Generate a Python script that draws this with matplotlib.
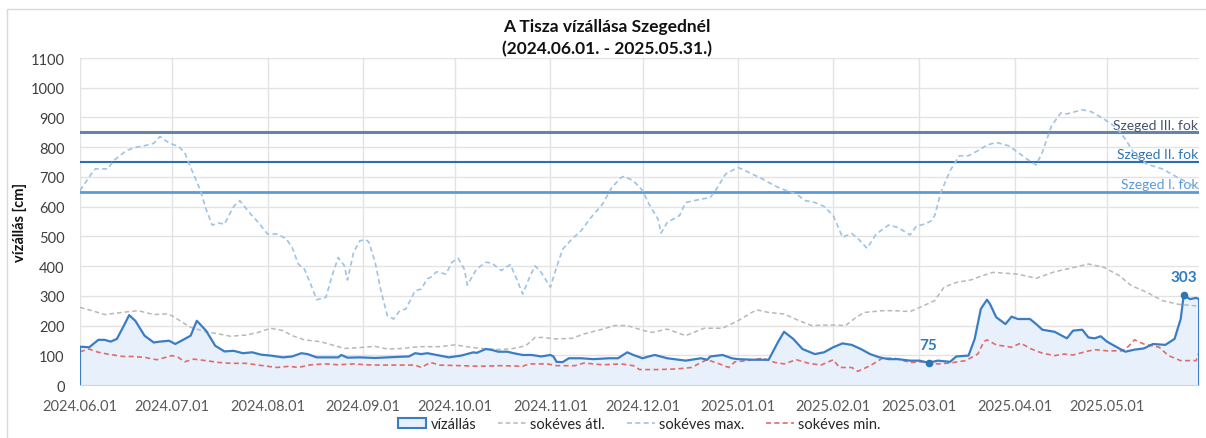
import matplotlib
matplotlib.use("Agg")
import matplotlib.pyplot as plt
import matplotlib.dates as mdates
import numpy as np
import pandas as pd
from matplotlib.patches import Rectangle, Patch
from matplotlib.lines import Line2D

plt.rcParams['font.family'] = ['Lato', 'DejaVu Sans']

# kezdőnap, minden adat napokban ehhez képest
start = pd.Timestamp('2024-06-01')

# vízállás [cm]
viz_days = [0, 3, 6, 8, 10, 12, 14, 16, 18, 21, 24, 26, 29, 31, 33, 36, 38, 41, 44, 47,
            50, 53, 56, 59, 62, 66, 69, 72, 74, 77, 80, 84, 85, 87, 91, 96, 100, 104, 107, 109,
            111, 113, 116, 120, 124, 128, 129, 132, 134, 136, 139, 141, 144, 147, 150, 153, 154, 155, 157, 159,
            163, 167, 172, 175, 178, 180, 183, 185, 187, 191, 197, 202, 204, 205, 209, 212, 214, 219, 224, 227,
            229, 232, 235, 239, 242, 245, 248, 251, 254, 257, 260, 263, 266, 270, 273, 276, 279, 283, 285, 289,
            291, 293, 295, 296, 298, 301, 303, 305, 309, 311, 313, 317, 321, 323, 326, 328, 330, 332, 334, 338,
            340, 343, 346, 349, 353, 356, 358, 359, 361, 363, 364]
viz_vals = [129, 127, 152, 152, 146, 155, 194, 235, 216, 166, 143, 146, 149, 138, 149, 166, 216, 183, 132, 113,
            115, 107, 110, 102, 99, 93, 96, 107, 104, 93, 93, 93, 101, 92, 93, 91, 93, 95, 96, 107,
            104, 107, 101, 93, 99, 110, 108, 121, 118, 112, 112, 107, 101, 101, 96, 101, 96, 78, 77, 90,
            90, 87, 90, 90, 110, 101, 90, 96, 101, 90, 82, 90, 85, 96, 101, 90, 87, 85, 85, 144,
            179, 155, 121, 104, 110, 127, 140, 135, 121, 104, 93, 87, 87, 82, 82, 75, 82, 78, 96, 99,
            155, 256, 287, 272, 228, 205, 230, 222, 222, 205, 186, 179, 157, 183, 186, 160, 157, 164, 146, 123,
            112, 119, 123, 138, 135, 155, 222, 303, 289, 293, 289]

# sokéves átlag
atl_days = [0, 4, 8, 12, 16, 19, 24, 28, 30, 33, 36, 41, 45, 49, 54, 58, 62, 66, 69, 73,
            78, 82, 86, 91, 96, 100, 105, 110, 117, 122, 127, 133, 137, 141, 145, 148, 151, 154, 160, 164,
            170, 174, 178, 183, 186, 191, 197, 203, 209, 214, 220, 224, 229, 234, 238, 244, 249, 252, 255, 261,
            265, 270, 274, 278, 281, 285, 290, 293, 297, 305, 311, 317, 321, 328, 333, 338, 342, 347, 352, 357,
            364]
atl_vals = [261, 250, 237, 242, 247, 250, 237, 239, 233, 213, 194, 179, 172, 164, 168, 177, 191, 183, 166, 152,
            146, 135, 123, 126, 130, 121, 123, 129, 129, 135, 127, 121, 119, 123, 132, 160, 160, 155, 157, 172,
            188, 200, 200, 184, 177, 188, 166, 191, 191, 216, 253, 244, 239, 216, 200, 202, 200, 224, 244, 250,
            250, 247, 265, 284, 329, 345, 354, 366, 379, 373, 359, 381, 390, 407, 396, 368, 334, 312, 284, 272,
            265]

# sokéves maximum
max_days = [0, 4, 5, 9, 11, 15, 18, 21, 24, 26, 29, 32, 34, 36, 39, 41, 43, 45, 47, 50,
            52, 55, 58, 61, 64, 67, 69, 71, 73, 75, 77, 80, 82, 84, 86, 87, 89, 91, 93, 94,
            96, 98, 100, 102, 104, 106, 109, 111, 113, 114, 116, 119, 121, 123, 125, 126, 129, 132, 134, 137,
            140, 142, 144, 146, 148, 150, 153, 155, 157, 160, 163, 166, 170, 173, 176, 177, 180, 183, 185, 188,
            189, 191, 195, 197, 201, 205, 207, 210, 214, 217, 222, 226, 229, 233, 236, 239, 242, 245, 248, 251,
            253, 256, 259, 263, 266, 270, 272, 275, 277, 278, 280, 283, 286, 289, 292, 295, 298, 302, 305, 308,
            311, 313, 316, 319, 321, 326, 329, 333, 337, 340, 343, 347, 352, 356, 360, 364]
max_vals = [654, 715, 727, 727, 755, 788, 799, 805, 813, 836, 814, 803, 783, 732, 659, 592, 538, 545, 541, 601,
            620, 581, 547, 508, 508, 493, 463, 407, 390, 340, 287, 295, 368, 429, 401, 353, 446, 485, 489, 480,
            413, 312, 233, 222, 250, 256, 317, 323, 357, 362, 381, 373, 413, 426, 390, 336, 390, 413, 410, 385,
            405, 357, 306, 357, 401, 379, 329, 396, 457, 491, 519, 561, 609, 665, 698, 702, 687, 654, 610, 558,
            511, 547, 570, 614, 623, 631, 659, 710, 732, 718, 693, 670, 657, 642, 620, 614, 601, 570, 497, 510,
            493, 460, 508, 538, 530, 505, 534, 542, 553, 570, 648, 721, 771, 771, 788, 807, 816, 805, 783, 760,
            740, 783, 872, 915, 912, 926, 919, 895, 867, 827, 777, 743, 727, 704, 682, 659]

# sokéves minimum
min_days = [0, 3, 6, 9, 14, 17, 21, 25, 30, 32, 34, 37, 41, 45, 49, 54, 58, 64, 68, 71,
            75, 80, 84, 89, 93, 98, 104, 109, 111, 114, 117, 124, 130, 137, 144, 146, 152, 155, 161, 164,
            170, 176, 180, 182, 185, 188, 194, 199, 202, 204, 208, 211, 213, 217, 222, 226, 229, 233, 237, 241,
            245, 247, 251, 253, 257, 261, 265, 270, 274, 279, 283, 288, 292, 294, 295, 298, 303, 306, 309, 313,
            317, 320, 323, 327, 330, 334, 339, 341, 343, 346, 351, 354, 358, 363, 364]
min_vals = [112, 121, 110, 104, 96, 96, 93, 85, 99, 93, 78, 87, 82, 76, 73, 73, 67, 59, 63, 59,
            68, 71, 68, 71, 68, 67, 67, 67, 59, 76, 67, 65, 63, 65, 63, 71, 71, 65, 65, 74,
            68, 71, 65, 52, 52, 52, 54, 59, 76, 85, 71, 59, 78, 82, 90, 76, 71, 85, 73, 67,
            85, 59, 59, 46, 65, 90, 90, 76, 78, 71, 74, 82, 104, 146, 152, 135, 127, 141, 123, 107,
            99, 104, 101, 112, 119, 115, 115, 130, 152, 138, 127, 99, 82, 82, 110]

# fokozatok
fok_vals = [650, 750, 850]
fok_labels = ['Szeged I. fok', 'Szeged II. fok', 'Szeged III. fok']
fok_colors = ['#5b9bd5', '#2e6db4', '#6584a8']
fok_text_colors = ['#5b9bd5', '#2e75b6', '#44546a']
fok_widths = [2.0, 1.5, 2.2]


def to_dates(days):
    return (start + pd.to_timedelta(days, unit='D')).to_numpy()


viz_x = to_dates(viz_days)
viz_y = np.array(viz_vals)

fig = plt.figure(figsize=(12.06, 4.39), dpi=100)
ax = fig.add_axes([0.0663, 0.1207, 0.928, 0.7449])

# rácsvonalak
ax.set_axisbelow(True)
ax.grid(True, color='#e3e3e3', linewidth=1)

# fokozat vonalak és feliratok
for v, lab, c, tc, w in zip(fok_vals, fok_labels, fok_colors, fok_text_colors, fok_widths):
    ax.axhline(v, color=c, linewidth=w, zorder=2)
    ax.text(0.999, v + 12, lab, transform=ax.get_yaxis_transform(), ha='right', va='baseline',
            color=tc, fontsize=10, zorder=3)

# vízállás terület
ax.fill_between(viz_x, 0, viz_y, color='#e8f1fb', zorder=1)
edge_x = np.concatenate([viz_x[:1], viz_x, viz_x[-1:]])
edge_y = np.concatenate([[0], viz_y, [0]])
ax.plot(edge_x, edge_y, color='#3b7dc4', linewidth=1.6, zorder=4)

dash = (0, (3, 2))
ax.plot(to_dates(atl_days), atl_vals, color='#b8b8b8', linewidth=1.1, linestyle=dash, zorder=3)
ax.plot(to_dates(max_days), max_vals, color='#9dc3e6', linewidth=1.2, linestyle=dash, zorder=3)
ax.plot(to_dates(min_days), min_vals, color='#e06b6b', linewidth=1.2, linestyle=dash, zorder=3)

# minimum és maximum jelölése
for i in [int(np.argmin(viz_y)), int(np.argmax(viz_y))]:
    ax.plot(viz_x[i], viz_y[i], 'o', color='#2e75b6', markersize=4.5, zorder=5)
    ax.annotate(str(viz_y[i]), (viz_x[i], viz_y[i]), xytext=(0, 13), textcoords='offset points',
                ha='center', va='center', color='#2e7bc4', fontsize=11, fontweight='bold', zorder=6)

# tengelyek
ax.set_xlim(to_dates([0])[0], to_dates([364])[0])
ax.set_ylim(0, 1100)
ax.set_yticks(range(0, 1101, 100))
ax.xaxis.set_major_locator(mdates.MonthLocator())
ax.xaxis.set_major_formatter(mdates.DateFormatter('%Y.%m.%d'))
ax.tick_params(axis='x', length=0, pad=10, labelsize=10.5, labelcolor='#595959')
ax.tick_params(axis='y', length=0, pad=11, labelsize=10.5, labelcolor='#404040')
for s in ['top', 'right', 'left']:
    ax.spines[s].set_visible(False)
ax.spines['bottom'].set_color('#c8d7e8')

# cím és tengelyfelirat
fig.text(0.503, 1 - 27 / 439, 'A Tisza vízállása Szegednél', ha='center', va='center',
         fontsize=12.5, fontweight='bold', color='#111111')
fig.text(0.503, 1 - 49 / 439, '(2024.06.01. - 2025.05.31.)', ha='center', va='center',
         fontsize=12.5, fontweight='bold', color='#111111')
fig.text(20 / 1206, 1 - 222 / 439, 'vízállás [cm]', rotation=90, ha='center', va='center',
         fontsize=10.5, fontweight='bold', color='#111111')

# jelmagyarázat
handles = [Patch(facecolor='#e8f1fb', edgecolor='#3b7dc4', linewidth=1.5),
           Line2D([], [], color='#b8b8b8', linewidth=1.1, linestyle=dash),
           Line2D([], [], color='#9dc3e6', linewidth=1.2, linestyle=dash),
           Line2D([], [], color='#e06b6b', linewidth=1.2, linestyle=dash)]
labels = ['vízállás', 'sokéves átl.', 'sokéves max.', 'sokéves min.']
leg = ax.legend(handles, labels, loc='center', bbox_to_anchor=(0.5, -0.119), ncol=4, frameon=False,
                fontsize=10.5, handlelength=1.9, handletextpad=0.3, columnspacing=1.5)
for t in leg.get_texts():
    t.set_color('#262626')

# külső keret
fig.add_artist(Rectangle((7 / 1206, -0.1), 1.2, 1.1 - 10 / 439, transform=fig.transFigure,
                         fill=False, edgecolor='#d9d9d9', linewidth=1))

fig.savefig('out.png', dpi=100)
plt.close('all')
